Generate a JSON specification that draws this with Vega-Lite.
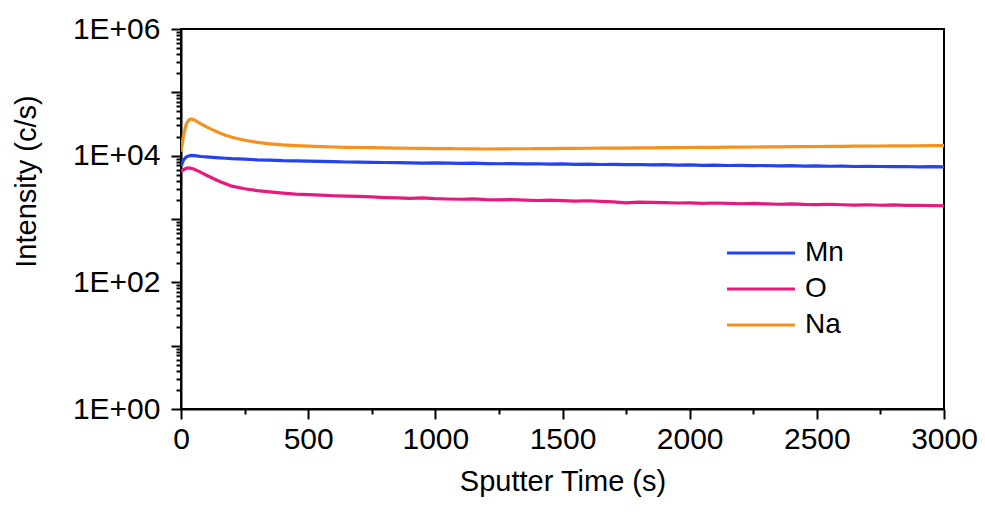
{
  "$schema": "https://vega.github.io/schema/vega-lite/v6.json",
  "width": 763,
  "height": 380,
  "autosize": {"type": "none"},
  "padding": {"left": 181, "top": 29, "right": 41, "bottom": 103},
  "background": "white",
  "config": {
    "view": {"stroke": "black", "strokeWidth": 2},
    "font": "Liberation Sans",
    "axis": {"grid": false, "domainColor": "black", "domainWidth": 2, "tickColor": "black", "tickWidth": 2, "labelColor": "black", "titleColor": "black", "labelFont": "Liberation Sans", "titleFont": "Liberation Sans", "labelFontSize": 30, "titleFontSize": 29, "titleFontWeight": "normal"}
  },
  "data": {"values": [
    {"t": 0, "Na": 11500, "Mn": 6800, "O": 5600},
    {"t": 10, "Na": 21000, "Mn": 8600, "O": 6000},
    {"t": 20, "Na": 31000, "Mn": 9500, "O": 6300},
    {"t": 30, "Na": 36500, "Mn": 9900, "O": 6400},
    {"t": 40, "Na": 38000, "Mn": 10100, "O": 6300},
    {"t": 50, "Na": 37000, "Mn": 10000, "O": 6150},
    {"t": 60, "Na": 35000, "Mn": 9900, "O": 5900},
    {"t": 80, "Na": 31500, "Mn": 9700, "O": 5400},
    {"t": 100, "Na": 28500, "Mn": 9550, "O": 4900},
    {"t": 125, "Na": 25500, "Mn": 9400, "O": 4400},
    {"t": 150, "Na": 23000, "Mn": 9250, "O": 3950},
    {"t": 175, "Na": 21000, "Mn": 9100, "O": 3600},
    {"t": 200, "Na": 19500, "Mn": 8950, "O": 3300},
    {"t": 250, "Na": 17500, "Mn": 8800, "O": 3000},
    {"t": 300, "Na": 16200, "Mn": 8600, "O": 2800},
    {"t": 350, "Na": 15400, "Mn": 8500, "O": 2680},
    {"t": 400, "Na": 14800, "Mn": 8350, "O": 2560},
    {"t": 450, "Na": 14400, "Mn": 8300, "O": 2470},
    {"t": 500, "Na": 14100, "Mn": 8200, "O": 2420},
    {"t": 550, "Na": 13850, "Mn": 8100, "O": 2380},
    {"t": 600, "Na": 13700, "Mn": 8050, "O": 2330},
    {"t": 650, "Na": 13550, "Mn": 7950, "O": 2300},
    {"t": 700, "Na": 13450, "Mn": 7900, "O": 2270},
    {"t": 750, "Na": 13350, "Mn": 7850, "O": 2230},
    {"t": 800, "Na": 13250, "Mn": 7800, "O": 2180},
    {"t": 850, "Na": 13150, "Mn": 7750, "O": 2150},
    {"t": 900, "Na": 13100, "Mn": 7700, "O": 2120},
    {"t": 950, "Na": 13050, "Mn": 7650, "O": 2160},
    {"t": 1000, "Na": 12950, "Mn": 7700, "O": 2100},
    {"t": 1050, "Na": 12900, "Mn": 7600, "O": 2070},
    {"t": 1100, "Na": 12850, "Mn": 7550, "O": 2050},
    {"t": 1150, "Na": 12800, "Mn": 7600, "O": 2080},
    {"t": 1200, "Na": 12750, "Mn": 7500, "O": 2020},
    {"t": 1250, "Na": 12800, "Mn": 7450, "O": 2000},
    {"t": 1300, "Na": 12850, "Mn": 7500, "O": 2030},
    {"t": 1350, "Na": 12850, "Mn": 7400, "O": 1990},
    {"t": 1400, "Na": 12900, "Mn": 7450, "O": 1960},
    {"t": 1450, "Na": 12950, "Mn": 7350, "O": 1980},
    {"t": 1500, "Na": 13000, "Mn": 7400, "O": 1950},
    {"t": 1550, "Na": 13050, "Mn": 7300, "O": 1920},
    {"t": 1600, "Na": 13100, "Mn": 7350, "O": 1940},
    {"t": 1650, "Na": 13150, "Mn": 7250, "O": 1900},
    {"t": 1700, "Na": 13200, "Mn": 7300, "O": 1870},
    {"t": 1750, "Na": 13200, "Mn": 7200, "O": 1800},
    {"t": 1800, "Na": 13250, "Mn": 7250, "O": 1850},
    {"t": 1850, "Na": 13300, "Mn": 7150, "O": 1830},
    {"t": 1900, "Na": 13350, "Mn": 7200, "O": 1810},
    {"t": 1950, "Na": 13400, "Mn": 7100, "O": 1790},
    {"t": 2000, "Na": 13450, "Mn": 7150, "O": 1800},
    {"t": 2050, "Na": 13500, "Mn": 7050, "O": 1770},
    {"t": 2100, "Na": 13550, "Mn": 7100, "O": 1790},
    {"t": 2150, "Na": 13600, "Mn": 7000, "O": 1760},
    {"t": 2200, "Na": 13650, "Mn": 7050, "O": 1740},
    {"t": 2250, "Na": 13700, "Mn": 6950, "O": 1760},
    {"t": 2300, "Na": 13750, "Mn": 7000, "O": 1730},
    {"t": 2350, "Na": 13800, "Mn": 6900, "O": 1710},
    {"t": 2400, "Na": 13850, "Mn": 6950, "O": 1730},
    {"t": 2450, "Na": 13900, "Mn": 6850, "O": 1700},
    {"t": 2500, "Na": 13950, "Mn": 6900, "O": 1690},
    {"t": 2550, "Na": 14000, "Mn": 6800, "O": 1710},
    {"t": 2600, "Na": 14050, "Mn": 6850, "O": 1680},
    {"t": 2650, "Na": 14100, "Mn": 6750, "O": 1660},
    {"t": 2700, "Na": 14150, "Mn": 6800, "O": 1680},
    {"t": 2750, "Na": 14200, "Mn": 6750, "O": 1650},
    {"t": 2800, "Na": 14250, "Mn": 6700, "O": 1670},
    {"t": 2850, "Na": 14300, "Mn": 6750, "O": 1640},
    {"t": 2900, "Na": 14350, "Mn": 6650, "O": 1650},
    {"t": 2950, "Na": 14400, "Mn": 6700, "O": 1630},
    {"t": 3000, "Na": 14450, "Mn": 6650, "O": 1620}
  ]},
  "transform": [{"fold": ["Mn", "O", "Na"], "as": ["element", "intensity"]}],
  "mark": {"type": "line", "strokeWidth": 3.2, "clip": true},
  "encoding": {
    "x": {
      "field": "t", "type": "quantitative",
      "scale": {"domain": [0, 3000], "nice": false},
      "axis": {
        "title": "Sputter Time (s)",
        "values": [0, 250, 500, 750, 1000, 1250, 1500, 1750, 2000, 2250, 2500, 2750, 3000],
        "format": "d",
        "labelExpr": "datum.value % 500 == 0 ? datum.label : ''",
        "tickSize": {"condition": {"test": "datum.value % 500 == 0", "value": 10}, "value": 5},
        "labelPadding": 5,
        "titlePadding": 13,
        "labelOverlap": false,
        "labelFlush": false
      }
    },
    "y": {
      "field": "intensity", "type": "quantitative",
      "scale": {"type": "log", "domain": [1, 1000000], "nice": false},
      "axis": {
        "title": "Intensity (c/s)",
        "values": [1, 2, 3, 4, 5, 6, 7, 8, 9, 10, 20, 30, 40, 50, 60, 70, 80, 90, 100, 200, 300, 400, 500, 600, 700, 800, 900, 1000, 2000, 3000, 4000, 5000, 6000, 7000, 8000, 9000, 10000, 20000, 30000, 40000, 50000, 60000, 70000, 80000, 90000, 100000, 200000, 300000, 400000, 500000, 600000, 700000, 800000, 900000, 1000000],
        "labelExpr": "datum.value == 1 ? '1E+00' : datum.value == 100 ? '1E+02' : datum.value == 10000 ? '1E+04' : datum.value == 1000000 ? '1E+06' : ''",
        "tickSize": {"condition": {"test": "indexof([1, 10, 100, 1000, 10000, 100000, 1000000], datum.value) >= 0", "value": 10}, "value": 5},
        "labelPadding": 11,
        "labelOverlap": false,
        "labelFlush": false,
        "titleX": -140,
        "titleY": 152
      }
    },
    "color": {
      "field": "element", "type": "nominal",
      "scale": {"domain": ["Mn", "O", "Na"], "range": ["#2442f0", "#e8197d", "#f5921e"]},
      "legend": {
        "title": null,
        "orient": "none",
        "legendX": 566,
        "legendY": 210,
        "symbolType": "M-4,0H4",
        "symbolSize": 289,
        "symbolStrokeWidth": 3.2,
        "labelFont": "Liberation Sans",
        "labelFontSize": 28,
        "labelColor": "black",
        "labelOffset": 30,
        "rowPadding": 8
      }
    }
  }
}
